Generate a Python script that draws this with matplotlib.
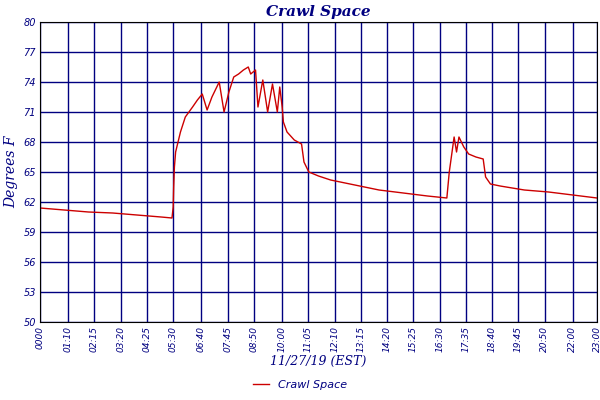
import matplotlib
matplotlib.use("Agg")
import matplotlib.pyplot as plt

hours = [0,1,2,3,4,5,5.45,5.5,5.52,5.55,5.6,5.8,6.0,6.3,6.5,6.7,6.9,7.1,7.3,7.4,7.6,7.8,8.0,8.2,8.4,8.6,8.7,8.9,9.0,9.2,9.4,9.6,9.8,9.9,10.0,10.05,10.2,10.5,10.8,10.9,11.1,11.5,12,13,14,15,16,16.8,16.9,17.1,17.2,17.3,17.5,17.7,18.0,18.3,18.4,18.6,19,20,21,22,23]
temps = [61.4,61.2,61.0,60.9,60.7,60.5,60.4,61.5,63.5,65.5,67,69,70.5,71.5,72.2,72.8,71.2,72.5,73.5,74,71,73,74.5,74.8,75.2,75.5,74.8,75.2,71.5,74.2,71,73.8,71,73.5,71.5,70,69,68.2,67.8,66,65,64.6,64.2,63.7,63.2,62.9,62.6,62.4,65,68.5,67,68.5,67.5,66.8,66.5,66.3,64.5,63.8,63.6,63.2,63.0,62.7,62.4]
tick_times = ["00:00","01:10","02:15","03:20","04:25","05:30","06:40","07:45","08:50","10:00","11:05","12:10","13:15","14:20","15:25","16:30","17:35","18:40","19:45","20:50","22:00","23:00"]
tick_labels = ["0000"] + tick_times[1:]
y_ticks = [50,53,56,59,62,65,68,71,74,77,80]

def to_h(s):
    h, m = s.split(":")
    return int(h) + int(m)/60

navy = "#000080"
fig = plt.figure(figsize=(6,4), dpi=100)
ax = fig.add_axes([40/600, 78/400, 557/600, 300/400])
ax.plot(hours, temps, color="#cc0000", lw=1, label="Crawl Space")
ax.set_xlim(0, 23)
ax.set_ylim(50, 80)
ax.set_xticks([to_h(s) for s in tick_times])
ax.set_xticklabels(tick_labels, rotation=90, fontsize=6.5, color=navy, style="italic")
ax.set_yticks(y_ticks)
ax.set_yticklabels([str(v) for v in y_ticks], fontsize=7, color=navy, style="italic")
ax.grid(True, color=navy, lw=1)
ax.tick_params(length=0, pad=3)
for s in ax.spines.values():
    s.set_color("black")
ax.set_title("Crawl Space", color=navy, fontsize=11, style="italic", fontweight="bold", pad=4, family="DejaVu Serif")
ax.set_ylabel("Degrees F", color=navy, fontsize=10, style="italic", family="DejaVu Serif", labelpad=4)
ax.set_xlabel("11/27/19 (EST)", color=navy, fontsize=9, style="italic", family="DejaVu Serif", labelpad=2)
fig.legend(loc="lower center", bbox_to_anchor=(0.5, 0.0), frameon=False,
           handlelength=1.5, labelcolor=navy, prop={"style": "italic", "size": 8})
fig.savefig("out.png", dpi=100)
